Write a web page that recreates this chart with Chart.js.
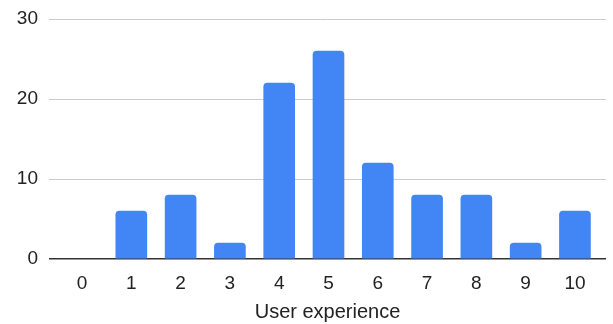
<!DOCTYPE html>
<html>
<head>
<meta charset="utf-8">
<script src="https://cdn.jsdelivr.net/npm/chart.js@4/dist/chart.umd.min.js"></script>
<style>
  html, body { margin: 0; padding: 0; background: #fff; }
  #wrap { width: 613px; height: 324px; position: relative; }
</style>
</head>
<body>
<div id="wrap"><canvas id="c"></canvas></div>
<script>
const scores = [0, 1, 2, 3, 4, 5, 6, 7, 8, 9, 10];
const counts = [0, 6, 8, 2, 22, 26, 12, 8, 8, 2, 6];
const yTicks = [0, 10, 20, 30];
const xTitle = 'User experience';

const tickFont = { family: '"Liberation Sans", Arial, sans-serif', size: 19 };
const titleFont = { family: '"Liberation Sans", Arial, sans-serif', size: 20 };

new Chart(document.getElementById('c'), {
  type: 'bar',
  data: {
    datasets: [{
      data: scores.map((s, i) => ({ x: s, y: counts[i] })),
      // empty columns stay invisible on the baseline
      backgroundColor: c => (c.raw && c.raw.y === 0) ? 'rgba(0,0,0,0)' : '#4285F4',
      borderRadius: { topLeft: 4, topRight: 4 },
      borderSkipped: 'start',
      barThickness: 31
    }]
  },
  options: {
    responsive: true,
    maintainAspectRatio: false,
    animation: false,
    layout: { padding: { top: 19, right: 7, left: 0, bottom: 0 } },
    plugins: { legend: { display: false }, tooltip: { enabled: false } },
    scales: {
      x: {
        type: 'linear',
        offset: false,
        min: -0.67,
        max: 10.63,
        grid: { display: false, drawTicks: false, offset: false },
        border: { display: false },
        afterBuildTicks: s => { s.ticks = scores.map(v => ({ value: v })); },
        ticks: { color: '#222', font: tickFont, padding: 13, autoSkip: false, maxRotation: 0 },
        title: { display: true, text: xTitle, color: '#222', font: titleFont, padding: { top: 5, bottom: 0 } },
        afterFit: s => { s.height = 65; s.paddingLeft = 0; s.paddingRight = 0; }
      },
      y: {
        min: 0,
        max: 30,
        afterBuildTicks: s => { s.ticks = yTicks.map(v => ({ value: v })); },
        grid: {
          drawTicks: false,
          color: c => c.tick.value === 0 ? '#333' : '#ccc',
          lineWidth: c => c.tick.value === 0 ? 1.5 : 1
        },
        border: { display: false },
        ticks: { color: '#222', font: tickFont, padding: 11 },
        afterFit: s => { s.width = 49; s.paddingTop = 0; s.paddingBottom = 0; }
      }
    }
  }
});
</script>
</body>
</html>
